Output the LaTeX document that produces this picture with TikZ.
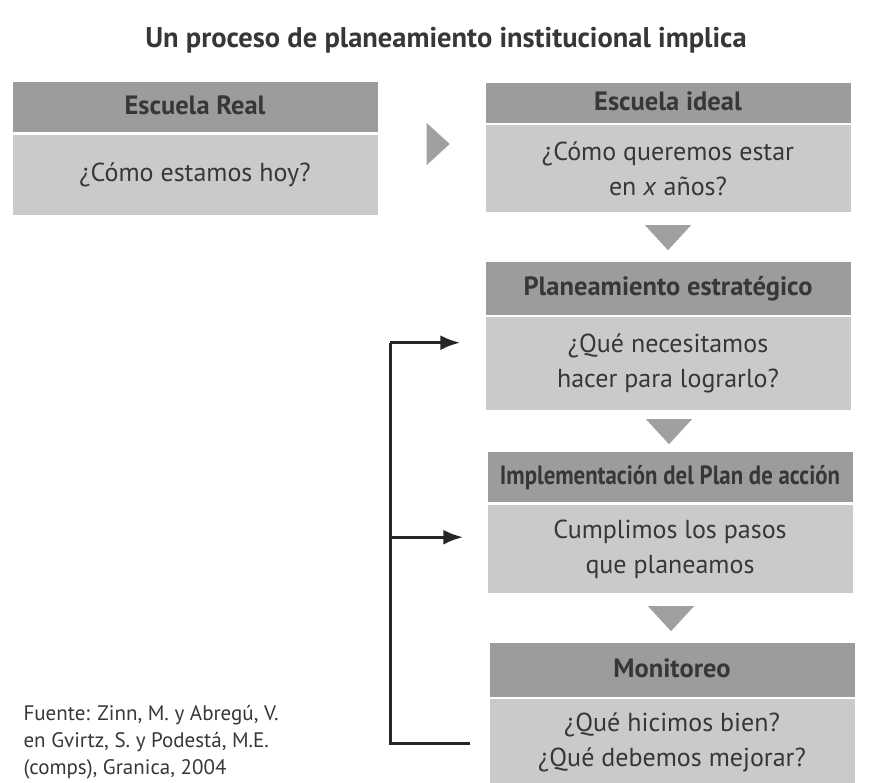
\documentclass[tikz,border=0pt]{standalone}
\usepackage{fontspec}
\setmainfont{PT Sans}
\usepackage{graphicx}
\usetikzlibrary{arrows.meta}
\usetikzlibrary{calc}
\usepackage{xcolor}

\definecolor{grisoscuro}{RGB}{156,156,156}
\definecolor{grisclaro}{RGB}{202,202,202}
\definecolor{grisflecha}{RGB}{160,160,160}
\definecolor{texto}{RGB}{55,55,55}

\begin{document}
\begin{tikzpicture}[x=1pt,y=-1pt,
    cabecera/.style={fill=grisoscuro, text=texto, anchor=north, inner sep=0pt,
      minimum width=365pt, text height=19pt, text depth=5pt,
      font=\bfseries\fontsize{26.5}{30}\selectfont},
    cuerpo/.style={fill=grisclaro, text=texto, anchor=north, inner sep=0pt,
      minimum width=365pt, align=center,
      font=\fontsize{26}{35}\selectfont},
    flecha/.style={fill=grisflecha},
    linea/.style={line width=3.2pt, draw=black!85},
    punta/.style={-{Latex[length=20pt,width=15pt]}}]

      \useasboundingbox (0,0) rectangle (873,782);

      % Title
      \node[text=texto, font=\bfseries\fontsize{28.5}{32}\selectfont] (titulo) at (446,40)
        {Un proceso de planeamiento institucional implica};

      % Boxes
      \node[cabecera, minimum height=50pt] (h1) at (195,82) {Escuela Real};
      \node[cuerpo, minimum height=80pt] (c1) at (195,135) {¿Cómo estamos hoy?};

      \node[cabecera, minimum height=40pt] (h2) at (668,83) {Escuela ideal};
      \node[cuerpo, minimum height=87pt] (c2) at (668,125) {¿Cómo queremos estar\\en \textit{x} años?};

      \node[cabecera, minimum height=53pt] (h3) at (668,262) {Planeamiento estratégico};
      \node[cuerpo, minimum height=93pt] (c3) at (668,317) {¿Qué necesitamos\\hacer para lograrlo?};

      \node[cabecera, minimum height=50pt] (h4) at (670,452) {\scalebox{0.86}[1]{Implementación del Plan de acción}};
      \node[cuerpo, minimum height=88pt] (c4) at (670,505) {Cumplimos los pasos\\que planeamos};

      \node[cabecera, minimum height=54pt] (h5) at (672,643) {Monitoreo};
      \node[cuerpo, minimum height=86pt] (c5) at (672,699) {¿Qué hicimos bien?\\¿Qué debemos mejorar?};

      % Triangles
      \fill[flecha] ($(c1.north east)+(49,-12)$) -- ++(0,42) -- ++(23,-21) -- cycle;
      \foreach \a/\b in {c2/h3, c3/h4, c4/h5}
      {
        \coordinate (m\a) at ($(\a.south)!0.5!(\b.north)$);
        \fill[flecha] ($(m\a)+(-23,-12)$) -- ++(46,0) -- ++(-23,25) -- cycle;
      }

      % Feedback
      \coordinate (p3) at ($(c3.west)+(-25,-21)$);
      \coordinate (p4) at ($(c4.west)+(-24,-12)$);
      \coordinate (p5) at ($(c5.west)+(-19,1)$);
      \coordinate (esq) at ($(c5.west)+(-99,1)$);
      \draw[linea] (p5) -- (esq) -- (esq |- p3);
      \draw[linea, punta] (esq |- p3) -- (p3);
      \draw[linea, punta] (esq |- p4) -- (p4);

      % Source
      \node[anchor=west, align=left, text=texto, font=\fontsize{21}{27}\selectfont] (fuente) at (20,742)
        {Fuente: Zinn, M. y Abregú, V.\\en Gvirtz, S. y Podestá, M.E.\\(comps), Granica, 2004};
  \end{tikzpicture}
\end{document}
